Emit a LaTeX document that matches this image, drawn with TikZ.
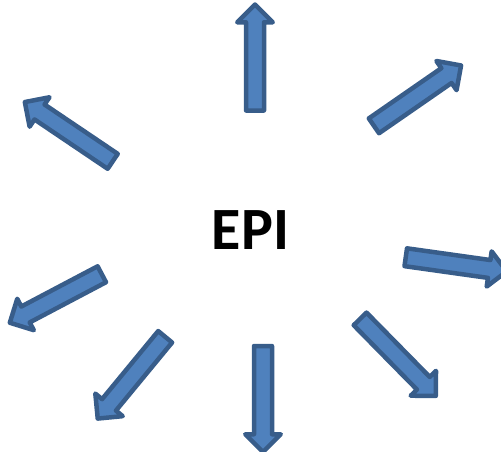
\documentclass[tikz,border=0pt]{standalone}
\usepackage{fontspec}
\newfontfamily\calib{Carlito}
\usetikzlibrary{shapes.arrows}
\definecolor{arrfill}{HTML}{4F81BD}
\definecolor{arrline}{HTML}{385D8A}
\begin{document}
\begin{tikzpicture}[x=1pt,y=-1pt,
	blockarrow/.style={single arrow,draw=arrline,fill=arrfill,line width=4.5pt,
		line join=round,inner xsep=0pt,inner ysep=6.75pt,single arrow head extend=8.75pt,
		minimum width=0pt,anchor=center}]
\useasboundingbox (0,0) rectangle (501,451);
\node[blockarrow,rotate=90,minimum height=106pt] (up) at (255,62) {};
\node[blockarrow,rotate=34.7,minimum height=106pt] (upright) at (413.8,98.2) {};
\node[blockarrow,rotate=146,minimum height=106pt] (upleft) at (72.5,134.2) {};
\node[blockarrow,rotate=-8,minimum height=102pt] (right) at (451.8,263.7) {};
\node[blockarrow,rotate=-152.2,minimum height=104pt] (left) at (59.8,296.4) {};
\node[blockarrow,rotate=-129.5,minimum height=106pt] (downleft) at (134.3,374.2) {};
\node[blockarrow,rotate=-90,minimum height=106pt] (down) at (263,394.5) {};
\node[blockarrow,rotate=-45.5,minimum height=108pt] (downright) at (394.8,354.2) {};
\node[font=\calib\bfseries\fontsize{60}{60}\selectfont,inner sep=0pt] (epi) at (250.5,230) {EPI};
\end{tikzpicture}
\end{document}
